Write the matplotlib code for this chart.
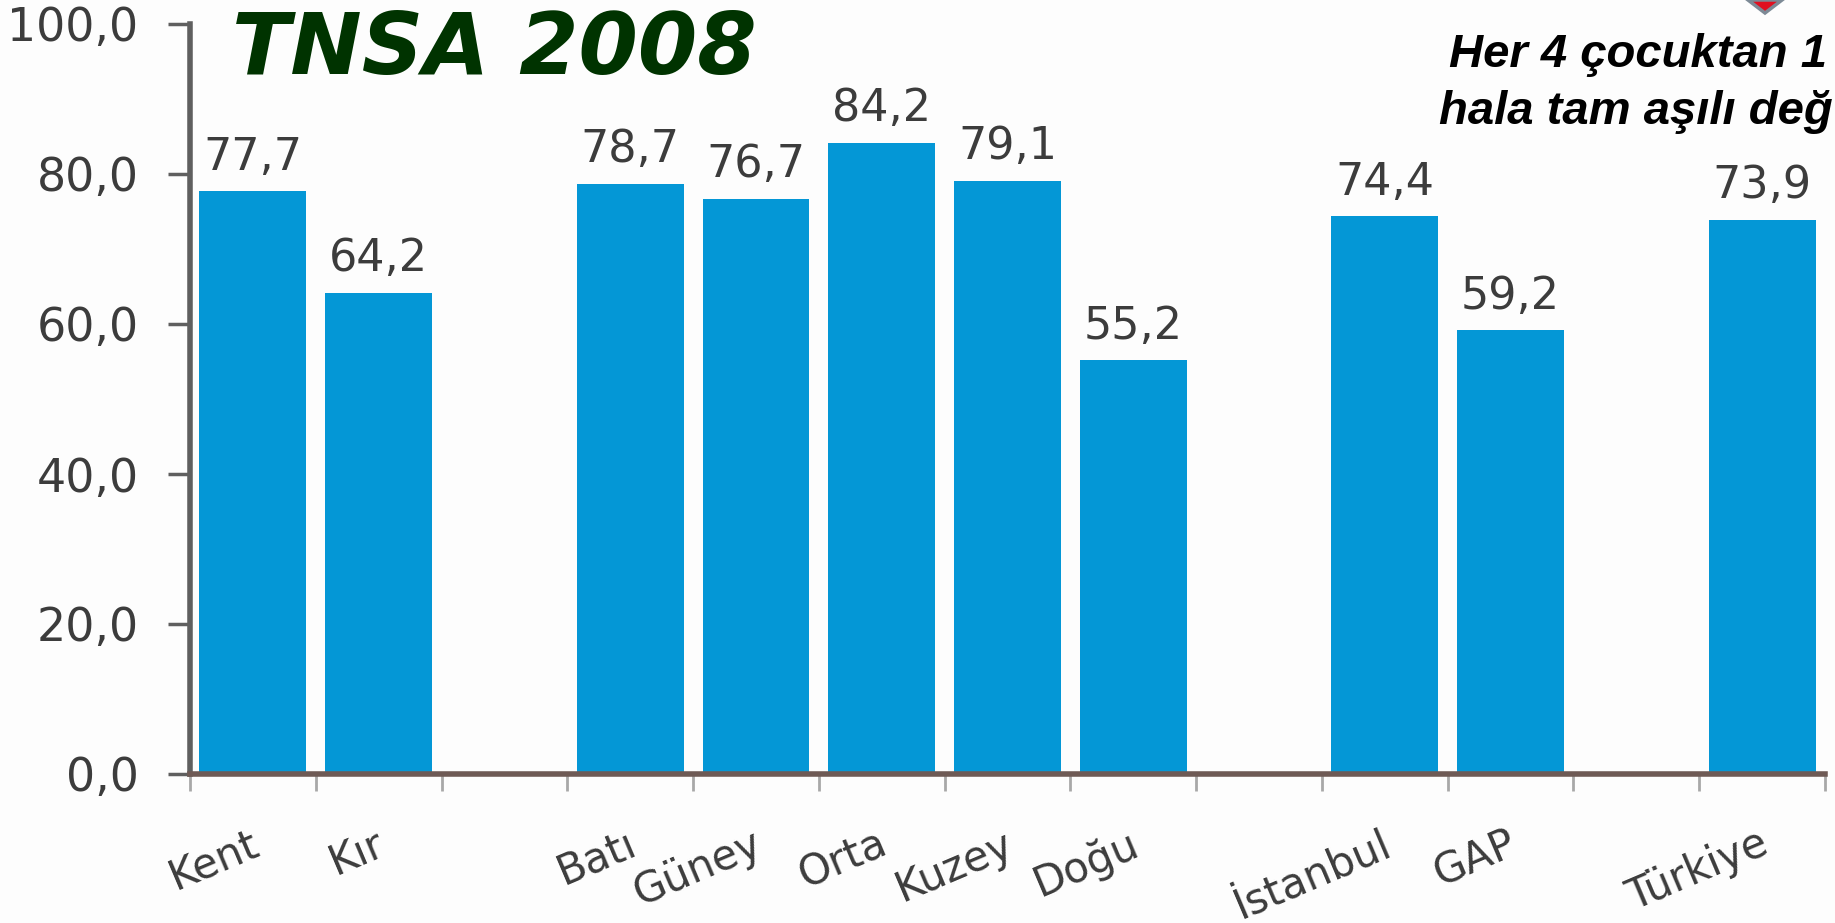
"""TNSA 2008 bar chart, full vaccination by region."""
import matplotlib
matplotlib.use("Agg")
import matplotlib.pyplot as plt
from matplotlib.patches import Polygon
import numpy as np

categories = ["Kent", "Kır", "", "Batı", "Güney", "Orta", "Kuzey", "Doğu", "",
              "İstanbul", "GAP", "", "Türkiye"]
values = [77.7, 64.2, np.nan, 78.7, 76.7, 84.2, 79.1, 55.2, np.nan,
          74.4, 59.2, np.nan, 73.9]
y_ticks = [0, 20, 40, 60, 80, 100]
y_ticklabels = ["0,0", "20,0", "40,0", "60,0", "80,0", "100,0"]

W, H = 1835, 923
BAR = "#0497d6"
AXIS = "#5f5f5f"
TEXT = "#3c3c3c"

fig = plt.figure(figsize=(W / 100, H / 100), dpi=100, facecolor="#fdfdfd")
ax = fig.add_axes([190 / W, 1 - 774 / H, (1825 - 190) / W, (774 - 24) / H])
ax.set_facecolor("#fdfdfd")

x = np.arange(len(categories)) + 0.5
ax.bar(x, values, width=0.85, color=BAR)
for xi, v in zip(x, values):
    if not np.isnan(v):
        ax.annotate(f"{v:.1f}".replace(".", ","), (xi, v), xytext=(0, 9),
                    textcoords="offset points", ha="center", va="bottom",
                    fontsize=32, color=TEXT)

ax.set_xlim(0, len(categories))
ax.set_ylim(0, 100)
ax.set_yticks(y_ticks)
ax.set_yticklabels(y_ticklabels, fontsize=33, color=TEXT)
ax.tick_params(axis="y", length=16, width=2.5, color=AXIS, pad=21)

# ticks sit between the bars, labels are centred on them
ax.set_xticks(np.arange(len(categories) + 1))
ax.set_xticklabels([])
ax.tick_params(axis="x", length=12, width=2, color="#a8a8a8")
for xi, name in zip(x, categories):
    ax.annotate(name, (xi, 0), xytext=(-3, -35), textcoords="offset points",
                ha="right", va="top", rotation=23, rotation_mode="anchor",
                fontsize=30, color=TEXT, annotation_clip=False)

for side in ("top", "right"):
    ax.spines[side].set_visible(False)
ax.spines["left"].set_linewidth(4)
ax.spines["left"].set_color(AXIS)
ax.spines["bottom"].set_linewidth(4)
ax.spines["bottom"].set_color("#6e5a55")

fig.text(232 / W, 1 - 74 / H, "TNSA 2008", fontsize=61.5, fontweight="bold",
         fontstyle="italic", color="#003300", family="DejaVu Sans")
fig.text(1449 / W, 1 - 67 / H, "Her 4 çocuktan 1", fontsize=34, fontweight="bold",
         fontstyle="italic", color="black", family="Liberation Sans")
fig.text(1439 / W, 1 - 124 / H, "hala tam aşılı değ", fontsize=34, fontweight="bold",
         fontstyle="italic", color="black", family="Liberation Sans")

# corner of the logo cut off by the top edge
fig.add_artist(Polygon([[1748 / W, 1], [1782 / W, 1], [1765 / W, 1 - 13 / H]],
                       transform=fig.transFigure, facecolor="#e01020",
                       edgecolor="#7d8a96", linewidth=2.5))

fig.savefig("out.png", dpi=100, facecolor=fig.get_facecolor())
